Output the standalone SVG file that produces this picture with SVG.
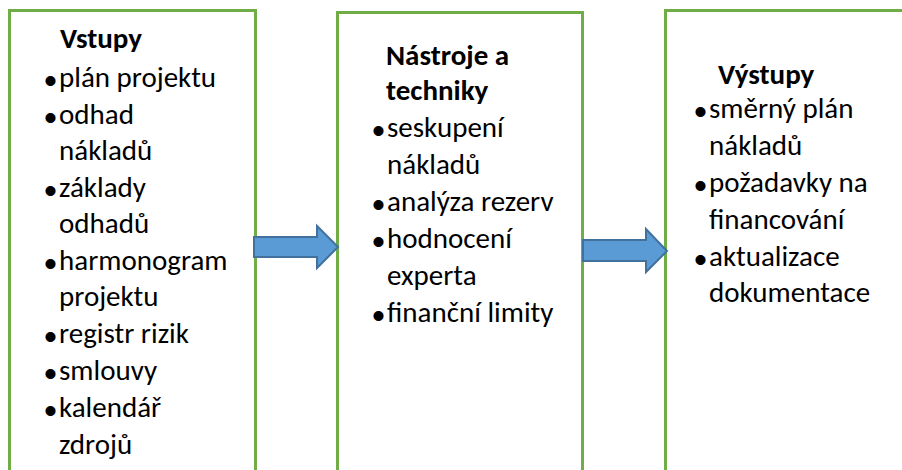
<svg xmlns="http://www.w3.org/2000/svg" width="902" height="470" viewBox="0 0 902 470">
<style>
.box{fill:#FFFFFF;stroke:#70AD47;stroke-width:3}
.t{font-family:Carlito,Lato,"Liberation Sans",sans-serif;font-size:29px;fill:#000000}
.h{font-weight:bold}
.b{font-family:"Liberation Sans",Arial,sans-serif;font-size:37px;fill:#000000}
.arr{fill:#5B9BD5;stroke:#41719C;stroke-width:2;stroke-linejoin:miter}
</style>
<rect width="902" height="470" fill="#FFFFFF"/>
<g id="inputs">
<path class="box" d="M9.5,480 V10.5 H255.5 V480"/>
<text class="t h" x="60" y="48">Vstupy</text>
<text class="b" x="44" y="93">•</text><text class="t" x="59" y="87">plán projektu</text>
<text class="b" x="44" y="130">•</text><text class="t" x="59" y="124">odhad</text>
<text class="t" x="59" y="160">nákladů</text>
<text class="b" x="44" y="203">•</text><text class="t" x="59" y="197">základy</text>
<text class="t" x="59" y="233">odhadů</text>
<text class="b" x="44" y="276">•</text><text class="t" x="59" y="270">harmonogram</text>
<text class="t" x="59" y="306">projektu</text>
<text class="b" x="44" y="349">•</text><text class="t" x="59" y="343">registr rizik</text>
<text class="b" x="44" y="386">•</text><text class="t" x="59" y="380">smlouvy</text>
<text class="b" x="44" y="423">•</text><text class="t" x="59" y="417">kalendář</text>
<text class="t" x="59" y="454">zdrojů</text>
</g>
<g id="tools">
<path class="box" d="M337.5,480 V12.5 H582.5 V480"/>
<text class="t h" x="386" y="65">Nástroje a</text>
<text class="t h" x="386" y="100">techniky</text>
<text class="b" x="372" y="143">•</text><text class="t" x="387" y="137">seskupení</text>
<text class="t" x="387" y="174">nákladů</text>
<text class="b" x="372" y="217">•</text><text class="t" x="387" y="211">analýza rezerv</text>
<text class="b" x="372" y="254">•</text><text class="t" x="387" y="248">hodnocení</text>
<text class="t" x="387" y="285">experta</text>
<text class="b" x="372" y="328">•</text><text class="t" x="387" y="322">finanční limity</text>
</g>
<g id="outputs">
<path class="box" d="M665.5,480 V10.5 H910"/>
<text class="t h" x="718" y="84">Výstupy</text>
<text class="b" x="694" y="124">•</text><text class="t" x="709" y="118">směrný plán</text>
<text class="t" x="709" y="155">nákladů</text>
<text class="b" x="694" y="198">•</text><text class="t" x="709" y="192">požadavky na</text>
<text class="t" x="709" y="229">financování</text>
<text class="b" x="694" y="272">•</text><text class="t" x="709" y="266">aktualizace</text>
<text class="t" x="709" y="302">dokumentace</text>
</g>
<g id="connectors">
<path class="arr" d="M254,237 H317 V226 L338,247 L317,268 V257 H254 Z"/>
<path class="arr" d="M583,240 H646 V229 L667,251 L646,272 V261 H583 Z"/>
</g>
</svg>
